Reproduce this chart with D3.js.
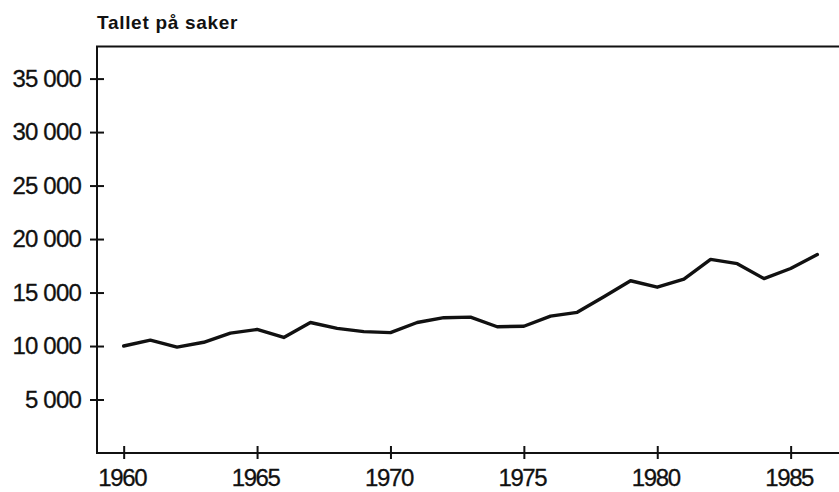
<!DOCTYPE html>
<html>
<head>
<meta charset="utf-8">
<script src="https://cdn.jsdelivr.net/npm/d3@7"></script>
<style>
  html, body { margin: 0; padding: 0; background: #fff; }
  svg { display: block; }
  text { font-family: "Liberation Sans", Arial, Helvetica, sans-serif; fill: #111; }
</style>
</head>
<body>
<svg id="chart" width="839" height="492"></svg>
<script>
// Antall saker per år, 1960–1986
const years = [1960, 1961, 1962, 1963, 1964, 1965, 1966, 1967, 1968, 1969,
               1970, 1971, 1972, 1973, 1974, 1975, 1976, 1977, 1978, 1979,
               1980, 1981, 1982, 1983, 1984, 1985, 1986];
const cases = [10000, 10550, 9900, 10350, 11200, 11550, 10800, 12200, 11650, 11350,
               11250, 12200, 12650, 12700, 11800, 11850, 12800, 13150, 14600, 16100,
               15500, 16250, 18100, 17700, 16300, 17250, 18550];
const yTicks = [5000, 10000, 15000, 20000, 25000, 30000, 35000];
const xTicks = [1960, 1965, 1970, 1975, 1980, 1985];
const title = "Tallet på saker";

const svg = d3.select("#chart");
const ink = "#111";

const x = d3.scaleLinear().domain([1959, 1987]).range([97, 844]);
const y = d3.scaleLinear().domain([0, 38000]).range([453, 46.5]);

const fmt = v => d3.format(",")(v).replace(/,/g, " ");

function styleLabels(sel, spacing) {
  sel.attr("font-size", 24).attr("fill", ink)
    .style("font-family", '"Liberation Sans", Arial, sans-serif')
    .attr("letter-spacing", spacing)
    .attr("stroke", ink).attr("stroke-width", 0.3);
}

// y axis with ticks crossing the line
const yAxis = svg.append("g").attr("transform", `translate(${x(1959)},0)`)
  .call(d3.axisLeft(y).tickValues(yTicks).tickSize(0).tickPadding(16).tickFormat(fmt));
yAxis.select(".domain").remove();
yAxis.selectAll(".tick line").attr("x1", -7).attr("x2", 7)
  .attr("stroke", ink).attr("stroke-width", 2);
yAxis.selectAll(".tick text").call(styleLabels, -0.8);

// x axis
const xAxis = svg.append("g").attr("transform", `translate(0,${y(0)})`)
  .call(d3.axisBottom(x).tickValues(xTicks).tickSize(0).tickPadding(16).tickFormat(d3.format("d")));
xAxis.select(".domain").remove();
xAxis.selectAll(".tick line").attr("y1", -7).attr("y2", 6)
  .attr("stroke", ink).attr("stroke-width", 2);
xAxis.selectAll(".tick text").call(styleLabels, -1.4).attr("dx", -2);

// frame: left, bottom and top lines
svg.append("path")
  .attr("d", `M${x(1987)},${y(38000)}H${x(1959)}V${y(0)}H${x(1987)}`)
  .attr("fill", "none").attr("stroke", ink).attr("stroke-width", 2);

// data line
const line = d3.line().x((d, i) => x(years[i])).y(d => y(d));
svg.append("path").datum(cases)
  .attr("d", line)
  .attr("fill", "none").attr("stroke", ink).attr("stroke-width", 3.4)
  .attr("stroke-linejoin", "round").attr("stroke-linecap", "round");

// title
svg.append("text").attr("x", 97).attr("y", 29)
  .attr("font-size", 19).attr("font-weight", "bold").attr("letter-spacing", 0.7)
  .text(title);
</script>
</body>
</html>
